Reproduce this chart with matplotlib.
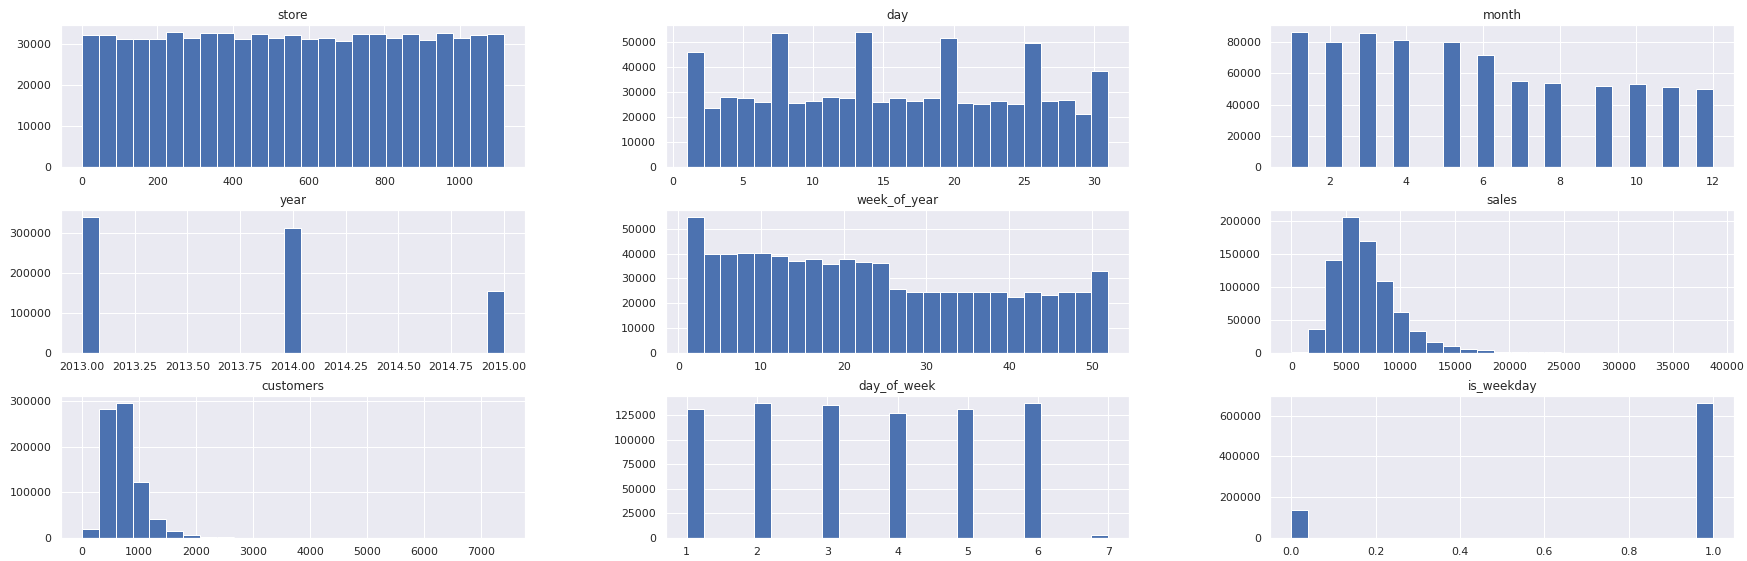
import numpy as np
import matplotlib
matplotlib.use("Agg")
import matplotlib.pyplot as plt
import seaborn as sns

# binned columns: (min, max) of the column and the 25 bin counts
store_range = (1, 1115)
store_counts = [32360, 32360, 31390, 31390, 31390, 33090, 31630, 32850, 32850, 31390,
                32600, 31630, 32360, 31390, 31630, 30900, 32600, 32600, 31630, 32600,
                31140, 32850, 31630, 32360, 32600]

day_range = (1, 31)
day_counts = [46280, 23940, 28320, 27930, 26330, 53860, 25930, 26730, 28320, 27930,
              54260, 26330, 27930, 26730, 27930, 51860, 25930, 25530, 26730, 25530,
              49870, 26730, 27130, 21140, 38700]

week_range = (1, 52)
week_counts = [54690, 39810, 39810, 40210, 40210, 39010, 37000, 37800, 35790, 37800,
               36600, 36190, 25740, 24530, 24530, 24530, 24530, 24530, 24530, 22520,
               24530, 23320, 24530, 24530, 32980]

sales_range = (0, 38700)
sales_counts = [1500, 36180, 140200, 205530, 168840, 109050, 61810, 33170, 16580, 9550,
                6030, 3500, 1500, 700, 400, 250, 150, 80, 60, 40,
                30, 10, 0, 0, 3]

customers_range = (0, 7388)
customers_counts = [19020, 283100, 297730, 122160, 40970, 14630, 5850, 2500, 1500, 600,
                    300, 150, 80, 50, 30, 20, 10, 5, 3, 2,
                    1, 1, 0, 0, 1]

# discrete columns: distinct values and how often they occur
month_values = list(range(1, 13))
month_counts = [86350, 80000, 85710, 81270, 80000, 71320, 55240, 53970, 52060, 53330, 51430, 50160]

year_values = [2013, 2014, 2015]
year_counts = [339000, 311600, 154600]

dow_values = [1, 2, 3, 4, 5, 6, 7]
dow_counts = [130780, 137570, 135530, 127380, 130780, 137570, 3000]

weekday_values = [0, 1]
weekday_counts = [135300, 663600]

panels = [
    ("store", "binned", store_range, store_counts),
    ("day", "binned", day_range, day_counts),
    ("month", "discrete", month_values, month_counts),
    ("year", "discrete", year_values, year_counts),
    ("week_of_year", "binned", week_range, week_counts),
    ("sales", "binned", sales_range, sales_counts),
    ("customers", "binned", customers_range, customers_counts),
    ("day_of_week", "discrete", dow_values, dow_counts),
    ("is_weekday", "discrete", weekday_values, weekday_counts),
]

sns.set_theme()

fig, axes = plt.subplots(3, 3, figsize=(1747 / 72, 561 / 72), dpi=72)
fig.subplots_adjust(left=0.0349, right=0.9926, top=0.9554, bottom=0.041,
                    wspace=0.304, hspace=0.303)

for ax, (name, kind, x, counts) in zip(axes.flat, panels):
    if kind == "binned":
        edges = np.linspace(x[0], x[1], 26)
        ax.hist(edges[:-1], bins=edges, weights=counts, color="#4C72B0")
    else:
        ax.hist(x, bins=25, weights=counts, color="#4C72B0")
    ax.set_title(name)

fig.savefig("out.png", dpi=72)
plt.close()
